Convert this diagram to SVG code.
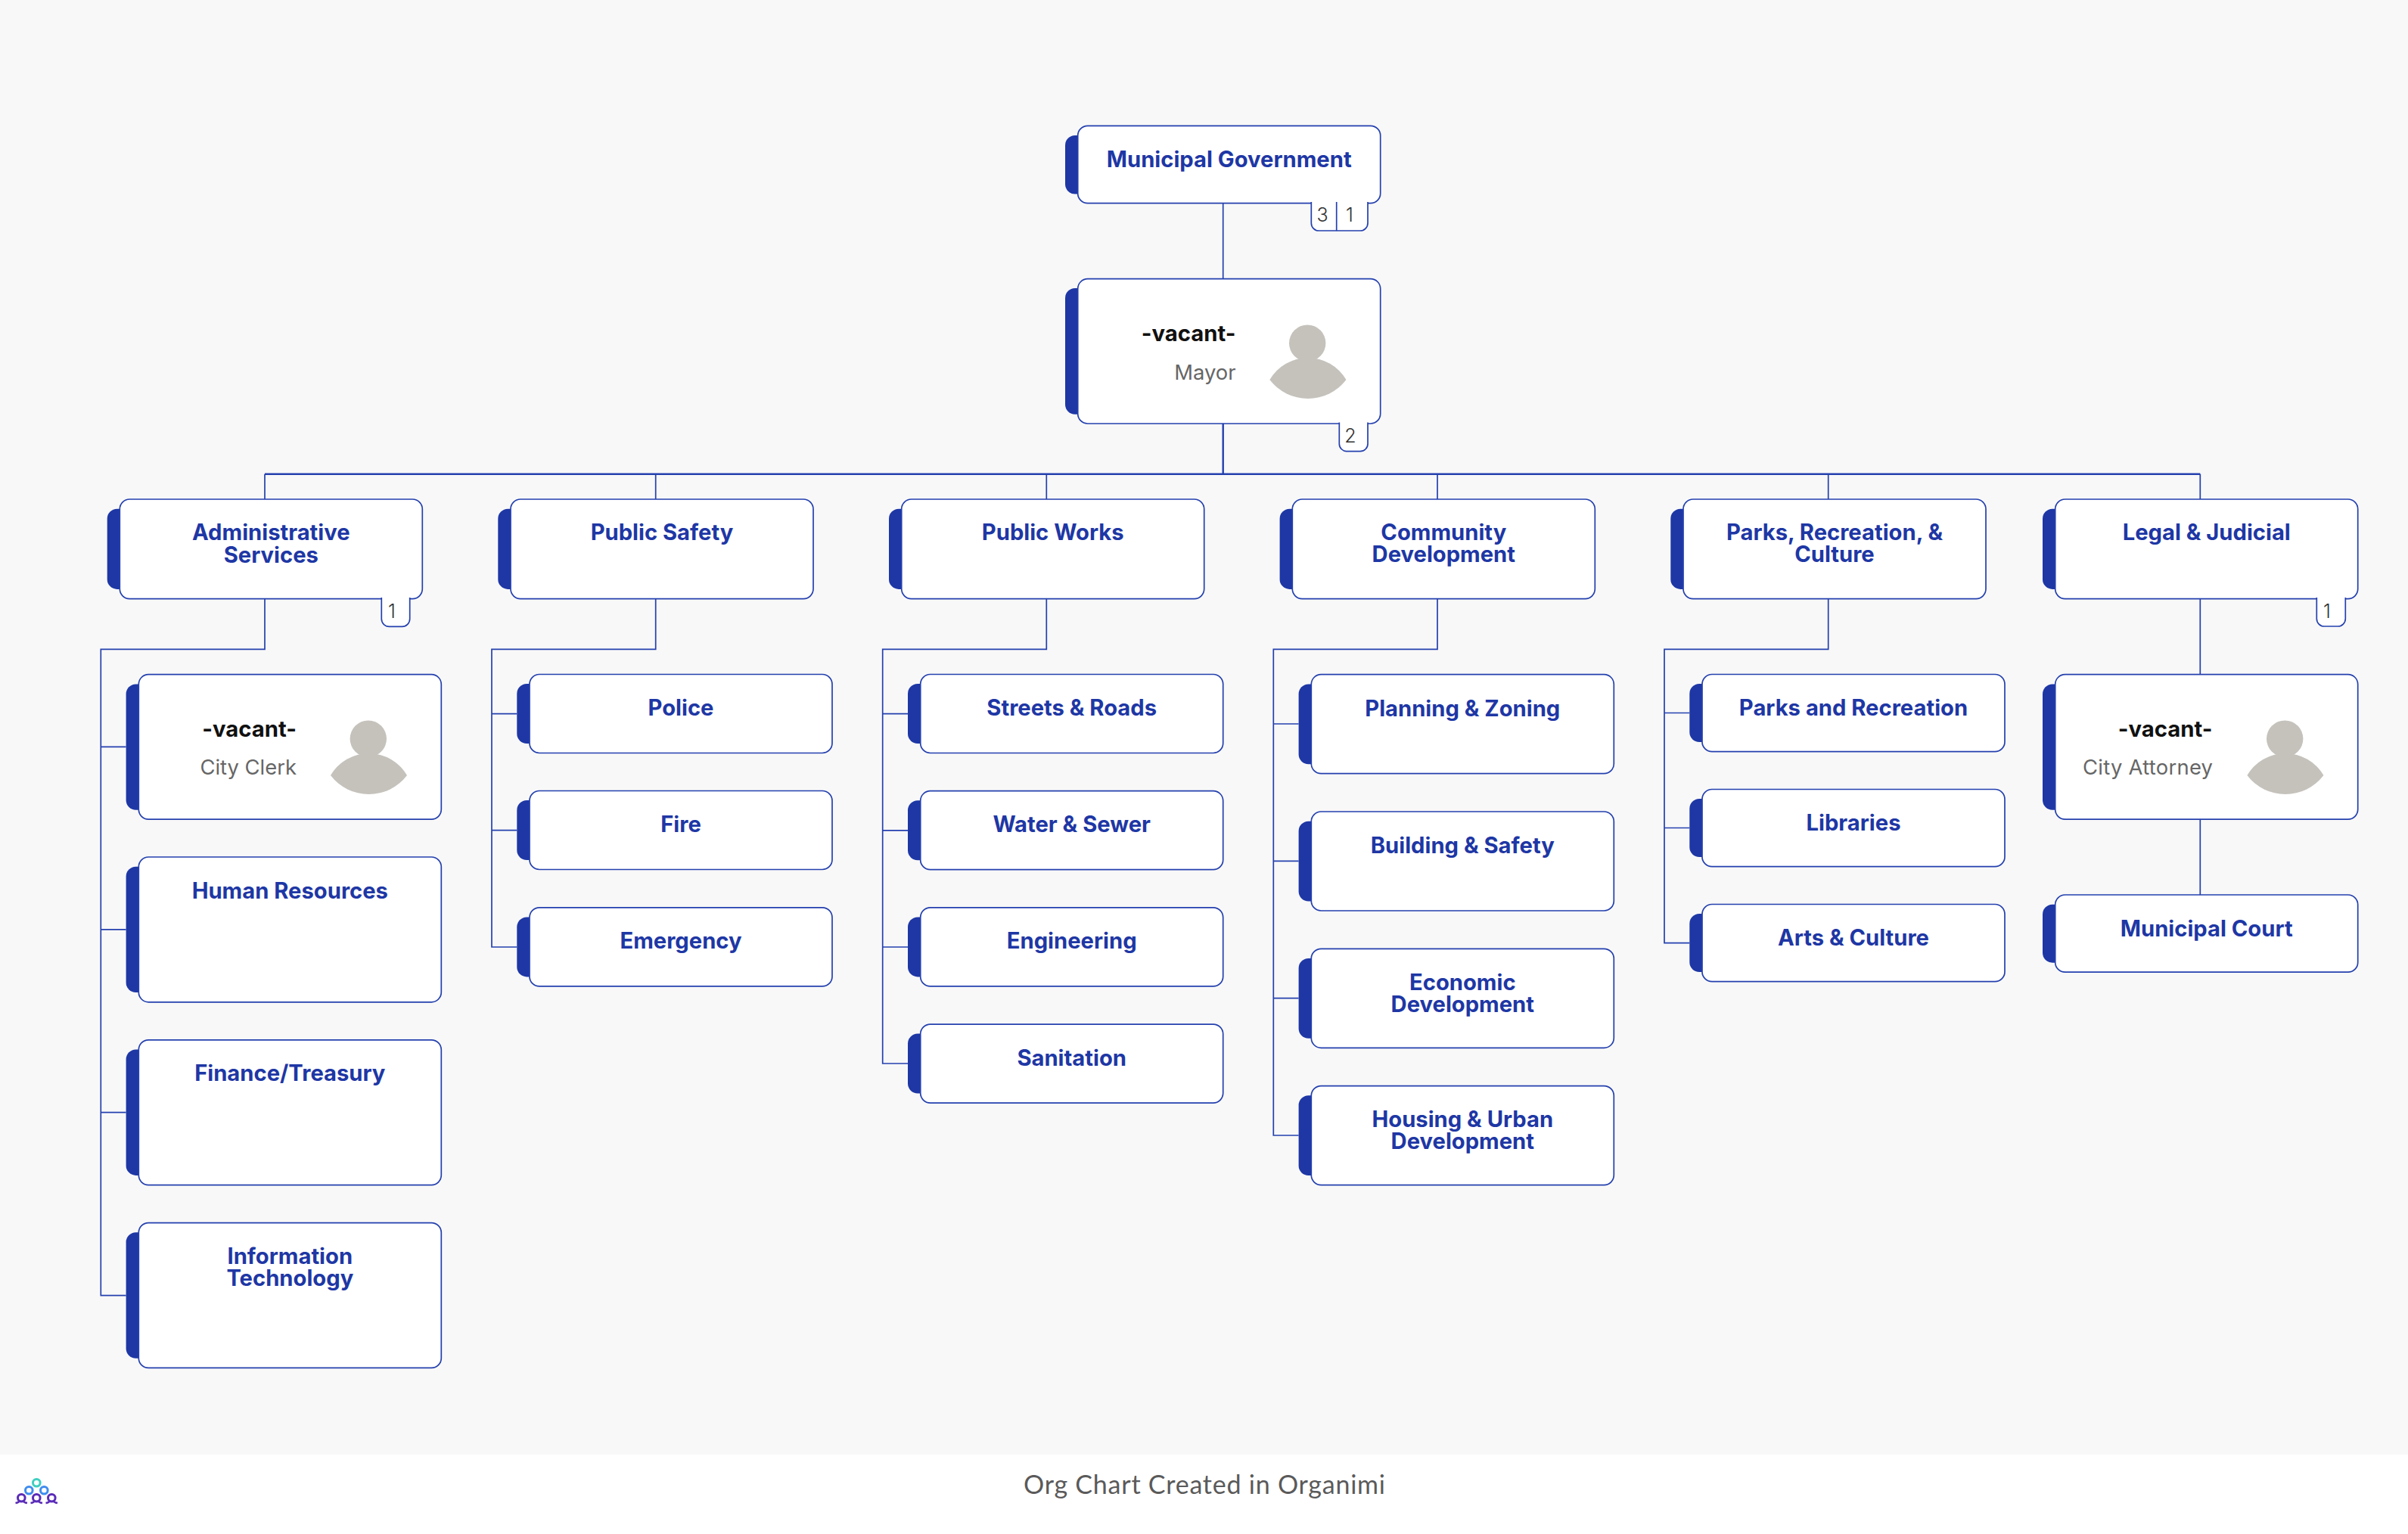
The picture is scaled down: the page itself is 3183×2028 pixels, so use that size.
<svg xmlns="http://www.w3.org/2000/svg" width="3183" height="2028" viewBox="0 0 3183 2028">
<style>
.box{fill:#fff;stroke:#2440ae;stroke-width:1.7}
.bar{fill:#1e37a5}
.badge{fill:#fff;stroke:#2440ae;stroke-width:1.7}
.t{font-family:Inter,"Liberation Sans",sans-serif;font-size:29.2px;font-weight:700;fill:#1e37a5;text-anchor:middle}
.n{font-family:Inter,"Liberation Sans",sans-serif;font-size:29.3px;font-weight:700;fill:#111;text-anchor:end}
.r{font-family:Inter,"Liberation Sans",sans-serif;font-size:27.4px;font-weight:400;fill:#666;text-anchor:end}
.c{font-family:Inter,"Liberation Sans",sans-serif;font-size:25px;font-weight:300;fill:#333;text-anchor:middle}
.av{fill:#c5c2bc}
.line{fill:none;stroke:#2440ae;stroke-width:1.7}
.main{fill:none;stroke:#2440ae;stroke-width:2.4}
.foot{font-family:Lato,"Liberation Sans",sans-serif;font-size:34px;fill:#5a5a5a}
.logo{fill:none;stroke-width:3}
</style>
<defs>
<g id="avatar">
<circle class="av" cx="303.5" cy="85" r="24.2"/>
<path class="av" d="M253.7 133.3A58.5 58.5 0 0 1 354.7 133.3A63.5 63.5 0 0 1 253.7 133.3Z"/>
</g>
</defs>
<rect width="3183" height="2028" fill="#f8f8f8"/>
<rect y="1923" width="3183" height="105" fill="#fff"/>
<g id="connectors">
<path class="line" d="M1616.7 268.7V368.7"/>
<path class="main" d="M1616.7 560V626.7M350 626.7H2908.3"/>
<path class="line" d="M350 626.7V660M866.7 626.7V660M1383.3 626.7V660M1900 626.7V660M2416.7 626.7V660M2908.3 626.7V660"/>
<path class="line" d="M350 791.6V858.3H133.3V1712.6H166.6M133.3 987.4H166.6M133.3 1228.9H166.6M133.3 1470.7H166.6"/>
<path class="line" d="M866.7 791.6V858.3H650V1252H683.3M650 943.6H683.3M650 1097.6H683.3"/>
<path class="line" d="M1383.3 791.6V858.3H1166.7V1406H1200M1166.7 943.6H1200M1166.7 1097.8H1200M1166.7 1252H1200"/>
<path class="line" d="M1900 791.6V858.3H1683.3V1501H1716.6M1683.3 957H1716.6M1683.3 1138.3H1716.6M1683.3 1319.6H1716.6"/>
<path class="line" d="M2416.7 791.6V858.3H2200V1246.6H2233.3M2200 942.5H2233.3M2200 1094.5H2233.3"/>
<path class="line" d="M2908.3 791.6V891.7M2908.3 1083V1183"/>
</g>
<g id="node-municipal-government">
<rect class="bar" x="1408" y="179" width="30" height="77.6" rx="13"/>
<rect class="box" x="1424.7" y="166.3" width="400" height="102.4" rx="13"/>
<path class="badge" d="M1733.3 267V295A10 10 0 0 0 1743.3 305H1798A10 10 0 0 0 1808 295V267"/>
<path class="line" d="M1766.7 267V305"/>
<text class="t" x="1624.7" y="221">Municipal Government</text>
<text class="c" x="1748" y="293">3</text>
<text class="c" x="1784" y="293">1</text>
</g>
<g id="node-mayor">
<rect class="bar" x="1408" y="381" width="30" height="166.7" rx="13"/>
<rect class="box" x="1424.7" y="368.7" width="400" height="191.3" rx="13"/>
<path class="badge" d="M1770.3 558.4V586.7A10 10 0 0 0 1780.3 596.7H1798A10 10 0 0 0 1808 586.7V558.4"/>
<use href="#avatar" x="1424.7" y="368.7"/>
<text class="n" x="1633.5" y="450.7">-vacant-</text>
<text class="r" x="1633.5" y="502">Mayor</text>
<text class="c" x="1785" y="585">2</text>
</g>
<g id="node-administrative-services">
<rect class="bar" x="141.7" y="672.7" width="30" height="106.2" rx="13"/>
<rect class="box" x="158.3" y="660" width="400" height="131.6" rx="13"/>
<path class="badge" d="M504.3 790V818.3A10 10 0 0 0 514.3 828.3H531.7A10 10 0 0 0 541.7 818.3V790"/>
<text class="t" x="358.3" y="713.5">Administrative<tspan x="358.3" dy="30">Services</tspan></text>
<text class="c" x="518" y="817">1</text>
</g>
<g id="node-public-safety">
<rect class="bar" x="658.3" y="672.7" width="30" height="106.2" rx="13"/>
<rect class="box" x="675" y="660" width="400" height="131.6" rx="13"/>
<text class="t" x="875" y="713.5">Public Safety</text>
</g>
<g id="node-public-works">
<rect class="bar" x="1175" y="672.7" width="30" height="106.2" rx="13"/>
<rect class="box" x="1191.7" y="660" width="400" height="131.6" rx="13"/>
<text class="t" x="1391.7" y="713.5">Public Works</text>
</g>
<g id="node-community-development">
<rect class="bar" x="1691.6" y="672.7" width="30" height="106.2" rx="13"/>
<rect class="box" x="1708.3" y="660" width="400" height="131.6" rx="13"/>
<text class="t" x="1908.3" y="713.8">Community<tspan x="1908.3" dy="29.5">Development</tspan></text>
</g>
<g id="node-parks-recreation-culture">
<rect class="bar" x="2208.3" y="672.7" width="30" height="106.2" rx="13"/>
<rect class="box" x="2225" y="660" width="400" height="131.6" rx="13"/>
<text class="t" x="2425" y="713.8">Parks, Recreation, &amp;<tspan x="2425" dy="29.5">Culture</tspan></text>
</g>
<g id="node-legal-judicial">
<rect class="bar" x="2700" y="672.7" width="30" height="106.2" rx="13"/>
<rect class="box" x="2716.7" y="660" width="400" height="131.6" rx="13"/>
<path class="badge" d="M3062.3 790V818A10 10 0 0 0 3072.3 828H3090.3A10 10 0 0 0 3100.3 818V790"/>
<text class="t" x="2916.7" y="713.8">Legal &amp; Judicial</text>
<text class="c" x="3076" y="817">1</text>
</g>
<g id="node-city-clerk">
<rect class="bar" x="166.6" y="904.4" width="30" height="166.4" rx="13"/>
<rect class="box" x="183.3" y="891.7" width="400" height="191.4" rx="13"/>
<use href="#avatar" x="183.3" y="891.7"/>
<text class="n" x="392" y="973.5">-vacant-</text>
<text class="r" x="392" y="1024.3">City Clerk</text>
</g>
<g id="node-human-resources">
<rect class="bar" x="166.6" y="1145.7" width="30" height="166.4" rx="13"/>
<rect class="box" x="183.3" y="1133" width="400" height="191.8" rx="13"/>
<text class="t" x="383.3" y="1187.5">Human Resources</text>
</g>
<g id="node-finance-treasury">
<rect class="bar" x="166.6" y="1387.5" width="30" height="166.4" rx="13"/>
<rect class="box" x="183.3" y="1374.8" width="400" height="191.8" rx="13"/>
<text class="t" x="383.3" y="1429.3">Finance/Treasury</text>
</g>
<g id="node-information-technology">
<rect class="bar" x="166.6" y="1629.3" width="30" height="166.4" rx="13"/>
<rect class="box" x="183.3" y="1616.6" width="400" height="191.8" rx="13"/>
<text class="t" x="383.3" y="1671">Information<tspan x="383.3" dy="29.3">Technology</tspan></text>
</g>
<g id="node-police">
<rect class="bar" x="683.3" y="904" width="30" height="79" rx="13"/>
<rect class="box" x="700" y="891.5" width="400" height="104" rx="13"/>
<text class="t" x="900" y="946">Police</text>
</g>
<g id="node-fire">
<rect class="bar" x="683.3" y="1058" width="30" height="79" rx="13"/>
<rect class="box" x="700" y="1045.5" width="400" height="104" rx="13"/>
<text class="t" x="900" y="1100">Fire</text>
</g>
<g id="node-emergency">
<rect class="bar" x="683.3" y="1212.4" width="30" height="79" rx="13"/>
<rect class="box" x="700" y="1199.9" width="400" height="104" rx="13"/>
<text class="t" x="900" y="1254.4">Emergency</text>
</g>
<g id="node-streets-roads">
<rect class="bar" x="1200" y="904" width="30" height="79" rx="13"/>
<rect class="box" x="1216.7" y="891.5" width="400" height="104" rx="13"/>
<text class="t" x="1416.7" y="946">Streets &amp; Roads</text>
</g>
<g id="node-water-sewer">
<rect class="bar" x="1200" y="1058.2" width="30" height="79" rx="13"/>
<rect class="box" x="1216.7" y="1045.7" width="400" height="104" rx="13"/>
<text class="t" x="1416.7" y="1100.2">Water &amp; Sewer</text>
</g>
<g id="node-engineering">
<rect class="bar" x="1200" y="1212.4" width="30" height="79" rx="13"/>
<rect class="box" x="1216.7" y="1199.9" width="400" height="104" rx="13"/>
<text class="t" x="1416.7" y="1254.4">Engineering</text>
</g>
<g id="node-sanitation">
<rect class="bar" x="1200" y="1366.6" width="30" height="79" rx="13"/>
<rect class="box" x="1216.7" y="1354.1" width="400" height="104" rx="13"/>
<text class="t" x="1416.7" y="1408.6">Sanitation</text>
</g>
<g id="node-planning-zoning">
<rect class="bar" x="1716.6" y="904.4" width="30" height="105.8" rx="13"/>
<rect class="box" x="1733.3" y="891.7" width="400" height="131" rx="13"/>
<text class="t" x="1933.3" y="946.7">Planning &amp; Zoning</text>
</g>
<g id="node-building-safety">
<rect class="bar" x="1716.6" y="1085.7" width="30" height="105.8" rx="13"/>
<rect class="box" x="1733.3" y="1073" width="400" height="131" rx="13"/>
<text class="t" x="1933.3" y="1128">Building &amp; Safety</text>
</g>
<g id="node-economic-development">
<rect class="bar" x="1716.6" y="1267" width="30" height="105.8" rx="13"/>
<rect class="box" x="1733.3" y="1254.3" width="400" height="131" rx="13"/>
<text class="t" x="1933.3" y="1308.8">Economic<tspan x="1933.3" dy="29.2">Development</tspan></text>
</g>
<g id="node-housing-urban-development">
<rect class="bar" x="1716.6" y="1448.3" width="30" height="105.8" rx="13"/>
<rect class="box" x="1733.3" y="1435.6" width="400" height="131" rx="13"/>
<text class="t" x="1933.3" y="1490.1">Housing &amp; Urban<tspan x="1933.3" dy="29.2">Development</tspan></text>
</g>
<g id="node-parks-and-recreation">
<rect class="bar" x="2233.3" y="904" width="30" height="77" rx="13"/>
<rect class="box" x="2250" y="891.5" width="400" height="102.2" rx="13"/>
<text class="t" x="2450" y="946">Parks and Recreation</text>
</g>
<g id="node-libraries">
<rect class="bar" x="2233.3" y="1056" width="30" height="77" rx="13"/>
<rect class="box" x="2250" y="1043.5" width="400" height="102.2" rx="13"/>
<text class="t" x="2450" y="1098">Libraries</text>
</g>
<g id="node-arts-culture">
<rect class="bar" x="2233.3" y="1208" width="30" height="77" rx="13"/>
<rect class="box" x="2250" y="1195.5" width="400" height="102.2" rx="13"/>
<text class="t" x="2450" y="1250">Arts &amp; Culture</text>
</g>
<g id="node-city-attorney">
<rect class="bar" x="2700" y="904.4" width="30" height="166.4" rx="13"/>
<rect class="box" x="2716.7" y="891.7" width="400" height="191.4" rx="13"/>
<use href="#avatar" x="2716.7" y="891.7"/>
<text class="n" x="2924.5" y="973.5">-vacant-</text>
<text class="r" x="2925" y="1024.3" textLength="172" lengthAdjust="spacing">City Attorney</text>
</g>
<g id="node-municipal-court">
<rect class="bar" x="2700" y="1195.7" width="30" height="77" rx="13"/>
<rect class="box" x="2716.7" y="1183" width="400" height="102.2" rx="13"/>
<text class="t" x="2916.7" y="1237.5">Municipal Court</text>
</g>
<g id="footer">
<g class="logo" stroke="#3ecfc0"><circle cx="48.3" cy="1960.3" r="4.8"/></g>
<g class="logo" stroke="#3e8cf0"><circle cx="38.3" cy="1970.3" r="4.8"/><circle cx="58.3" cy="1970.3" r="4.8"/></g>
<g class="logo" stroke="#5a2bb8"><circle cx="28.3" cy="1980.3" r="4.8"/><circle cx="48.3" cy="1980.3" r="4.8"/><circle cx="68.3" cy="1980.3" r="4.8"/>
<path stroke-width="2.4" d="M20.5 1987Q24.5 1986.5 25 1985M36 1987Q32 1986.5 31.5 1985M40.5 1987Q44.5 1986.5 45 1985M56 1987Q52 1986.5 51.5 1985M60.5 1987Q64.5 1986.5 65 1985M76 1987Q72 1986.5 71.5 1985"/></g>
<text class="foot" x="1353" y="1975" textLength="478" lengthAdjust="spacing">Org Chart Created in Organimi</text>
</g>
</svg>
